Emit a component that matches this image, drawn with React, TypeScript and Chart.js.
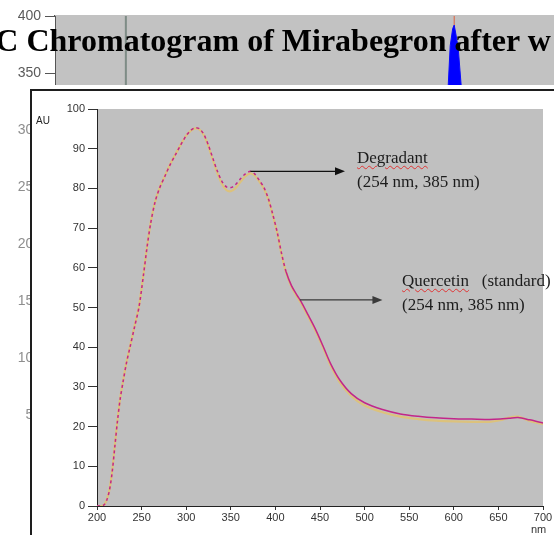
import React, { useEffect, useRef } from 'react';
import { Chart, registerables } from 'chart.js';

Chart.register(...registerables);

// ---------- background chromatogram (partly hidden) ----------
const titleText = 'LC Chromatogram of Mirabegron after w';
const chromTimeMax = 10;
const chromTicks = [0, 50, 100, 150, 200, 250, 300, 350, 400];
const peakTimes = [7.84, 7.86, 7.88, 7.92, 7.97, 8.0, 8.03, 8.08, 8.14, 8.17, 8.2];
const peakSignal = [0, 300, 339, 374, 389, 392, 385, 372, 339, 300, 0];
const spikeTimes = [8.0, 8.0];
const spikeSignal = [362, 402];
const markerTimes = [1.42, 1.42];
const markerSignal = [0, 400];

// ---------- UV spectrum ----------
const wavelengths = [
  200, 205, 208, 211, 214, 217, 220, 223, 226, 229, 233, 237, 242, 247, 252, 256, 260, 265, 270, 276,
  282, 288, 294, 300, 305, 310, 315, 320, 325, 330, 335, 340, 345, 350, 355, 360, 366, 372, 377, 382,
  387, 392, 397, 402, 407, 412, 418, 424, 430, 437, 445, 453, 462, 472, 485, 500, 520, 540, 560, 580,
  600, 620, 640, 652, 662, 672, 685, 700,
];
const degradantAU = [
  0, 0, 0.3, 1.5, 4, 8.5, 15, 21.5, 27, 31, 36, 40, 45, 50, 58, 65, 71, 76.5, 80, 83,
  86, 88.5, 91, 93.3, 94.6, 95.3, 95, 93.5, 90.8, 87.5, 84.3, 81.8, 80.4, 80.2, 80.9, 82.2, 83.6, 84.3, 83.6, 82,
  80.3, 77.5, 73.5, 69, 63.5, 59, 55.5, 53.2, 51, 48, 44.5, 40.5, 35.8, 31.8, 28.3, 26, 24.3, 23.2, 22.6, 22.2,
  22, 21.9, 21.8, 21.9, 22.1, 22.3, 21.7, 20.9,
];
const standardAU = [
  0, 0, 0.3, 1.6, 4.2, 8.8, 15.3, 21.8, 27.2, 31.2, 36.2, 40.2, 45.2, 50.3, 58.2, 65.2, 71.1, 76.5, 80, 83.1,
  86.1, 88.6, 91.1, 93.3, 94.5, 95.1, 94.8, 93.3, 90.5, 87.1, 83.8, 81.2, 79.6, 79.3, 80, 81.4, 83, 83.8, 83.2, 81.7,
  80, 77.3, 73.3, 68.8, 63.3, 58.8, 55.2, 52.8, 50.6, 47.6, 44.1, 40.1, 35.3, 31.2, 27.7, 25.3, 23.6, 22.5, 21.9, 21.5,
  21.3, 21.2, 21.2, 21.6, 22.3, 22.5, 21.4, 20.6,
];
const auTicks = [0, 10, 20, 30, 40, 50, 60, 70, 80, 90, 100];
const nmTicks = [200, 250, 300, 350, 400, 450, 500, 550, 600, 650, 700];

// arrows (data space)
const degradantArrow = { from: [372, 84.3], to: [478, 84.3] };
const standardArrow = { from: [427.5, 51.9], to: [520, 51.9] };

const areaBg = {
  id: 'areaBg',
  beforeDraw(chart: any, _args: any, opts: any) {
    const { ctx, chartArea } = chart;
    const ext = opts.extendTop || 0;
    ctx.save();
    ctx.fillStyle = opts.color || '#c0c0c0';
    ctx.fillRect(
      chartArea.left,
      chartArea.top - ext,
      chartArea.right - chartArea.left,
      chartArea.bottom - chartArea.top + ext,
    );
    if (ext && opts.borderColor) {
      ctx.strokeStyle = opts.borderColor;
      ctx.lineWidth = 1;
      ctx.beginPath();
      ctx.moveTo(chartArea.left - 0.5, chartArea.top - ext);
      ctx.lineTo(chartArea.left - 0.5, chartArea.top);
      ctx.stroke();
    }
    ctx.restore();
  },
};

const arrowPlugin = {
  id: 'arrows',
  afterDatasetsDraw(chart: any, _args: any, opts: any) {
    const { ctx } = chart;
    const xs = chart.scales.x;
    const ys = chart.scales.y;
    (opts.items || []).forEach((a: any) => {
      const x0 = xs.getPixelForValue(a.from[0]);
      const y0 = ys.getPixelForValue(a.from[1]);
      const x1 = xs.getPixelForValue(a.to[0]);
      const y1 = ys.getPixelForValue(a.to[1]);
      ctx.save();
      ctx.strokeStyle = a.color;
      ctx.fillStyle = a.color;
      ctx.lineWidth = 1.3;
      ctx.beginPath();
      ctx.moveTo(x0, y0);
      ctx.lineTo(x1 - 8, y1);
      ctx.stroke();
      ctx.beginPath();
      ctx.moveTo(x1, y1);
      ctx.lineTo(x1 - 10, y1 - 4);
      ctx.lineTo(x1 - 10, y1 + 4);
      ctx.closePath();
      ctx.fill();
      ctx.restore();
    });
  },
};

function BackgroundChart() {
  const ref = useRef<HTMLCanvasElement>(null);
  useEffect(() => {
    if (!ref.current) return;
    const chart = new Chart(ref.current, {
      type: 'line',
      data: {
        datasets: [
          {
            label: 'peak',
            data: peakTimes.map((t, i) => ({ x: t, y: peakSignal[i] })),
            borderColor: '#0a0aff',
            backgroundColor: '#0000ff',
            fill: 'origin',
            borderWidth: 1,
            pointRadius: 0,
          },
          {
            label: 'spike',
            data: spikeTimes.map((t, i) => ({ x: t, y: spikeSignal[i] })),
            borderColor: '#e0603c',
            borderWidth: 1,
            pointRadius: 0,
          },
          {
            label: 'marker',
            data: markerTimes.map((t, i) => ({ x: t, y: markerSignal[i] })),
            borderColor: '#7e8c86',
            borderWidth: 2,
            pointRadius: 0,
          },
        ],
      },
      options: {
        animation: false,
        responsive: false,
        devicePixelRatio: 1,
        layout: { padding: { top: 16, bottom: 63, left: 0, right: 0 } },
        plugins: {
          legend: { display: false },
          tooltip: { enabled: false },
          areaBg: { color: '#c2c2c2', extendTop: 1, borderColor: '#555' },
        } as any,
        scales: {
          x: { type: 'linear', min: 0, max: chromTimeMax, display: false },
          y: {
            type: 'linear',
            min: chromTicks[0],
            max: chromTicks[chromTicks.length - 1],
            afterBuildTicks: (s: any) => {
              s.ticks = chromTicks.map((v) => ({ value: v }));
            },
            afterFit: (s: any) => {
              s.width = 55;
            },
            ticks: {
              padding: 4,
              font: { family: 'Arial, "Liberation Sans"', size: 14 },
              color: (c: any) => (c && c.tick && c.tick.value < 350 ? '#8e8e8e' : '#5a5a5a'),
            },
            grid: { drawOnChartArea: false, tickLength: 10, color: '#555' },
            border: { color: '#555', width: 1 },
          },
        },
      },
      plugins: [areaBg],
    });
    return () => chart.destroy();
  }, []);
  return <canvas ref={ref} width={554} height={535} style={{ position: 'absolute', left: 0, top: 0 }} />;
}

function SpectrumChart() {
  const ref = useRef<HTMLCanvasElement>(null);
  useEffect(() => {
    if (!ref.current) return;
    const chart = new Chart(ref.current, {
      type: 'line',
      data: {
        datasets: [
          {
            label: 'Degradant',
            data: wavelengths.map((w, i) => ({ x: w, y: degradantAU[i] })),
            borderColor: '#c2268a',
            borderWidth: 1.5,
            pointRadius: 0,
            tension: 0.3,
            segment: {
              borderDash: (c: any) => (c.p0.parsed.x < 410 ? [3, 3] : []),
            },
          },
          {
            label: 'Quercetin (standard)',
            data: wavelengths.map((w, i) => ({ x: w, y: standardAU[i] })),
            borderColor: '#dcc27c',
            borderWidth: 2.2,
            pointRadius: 0,
            tension: 0.3,
          },
        ],
      },
      options: {
        animation: false,
        responsive: false,
        devicePixelRatio: 1,
        layout: { padding: { top: 18, right: 11, left: 0, bottom: 0 } },
        plugins: {
          legend: { display: false },
          tooltip: { enabled: false },
          areaBg: { color: '#c0c0c0' },
          arrows: {
            items: [
              { ...degradantArrow, color: '#111' },
              { ...standardArrow, color: '#3a3a3a' },
            ],
          },
        } as any,
        scales: {
          x: {
            type: 'linear',
            min: nmTicks[0],
            max: nmTicks[nmTicks.length - 1],
            afterBuildTicks: (s: any) => {
              s.ticks = nmTicks.map((v) => ({ value: v }));
            },
            afterFit: (s: any) => {
              s.height = 29;
            },
            ticks: {
              padding: 1,
              maxRotation: 0,
              autoSkip: false,
              font: { family: 'Arial, "Liberation Sans"', size: 11 },
              color: '#333',
            },
            grid: { drawOnChartArea: false, tickLength: 4, color: '#333' },
            border: { color: '#222', width: 1 },
          },
          y: {
            type: 'linear',
            min: auTicks[0],
            max: auTicks[auTicks.length - 1],
            afterBuildTicks: (s: any) => {
              s.ticks = auTicks.map((v) => ({ value: v }));
            },
            afterFit: (s: any) => {
              s.width = 65;
            },
            ticks: {
              padding: 3,
              font: { family: 'Arial, "Liberation Sans"', size: 11 },
              color: '#333',
            },
            grid: { drawOnChartArea: false, tickLength: 9, color: '#333' },
            border: { color: '#222', width: 1 },
          },
        },
      },
      plugins: [areaBg, arrowPlugin],
    });
    return () => chart.destroy();
  }, []);
  return <canvas ref={ref} width={522} height={444} style={{ display: 'block' }} />;
}

const serif = '"Liberation Serif", "Times New Roman", Times, serif';
const sans = 'Arial, "Liberation Sans", sans-serif';
const squiggle: React.CSSProperties = {
  textDecorationLine: 'underline',
  textDecorationStyle: 'wavy',
  textDecorationColor: '#e03434',
  textDecorationThickness: '1px',
  textUnderlineOffset: '2px',
};

export default function App() {
  return (
    <div
      style={{
        position: 'fixed',
        left: 0,
        top: 0,
        width: 554,
        height: 535,
        overflow: 'hidden',
        background: '#fff',
      }}
    >
      <BackgroundChart />
      <div
        style={{
          position: 'absolute',
          left: -26,
          top: 24,
          fontFamily: serif,
          fontWeight: 'bold',
          fontSize: 32,
          lineHeight: '32px',
          whiteSpace: 'nowrap',
          color: '#000',
        }}
      >
        {titleText}
      </div>
      <div style={{ position: 'absolute', left: 0, top: 85, width: 554, height: 4, background: '#fff' }} />
      <div
        style={{
          position: 'absolute',
          left: 30,
          top: 89,
          width: 524,
          height: 446,
          boxSizing: 'border-box',
          borderLeft: '2px solid #1e1e1e',
          borderTop: '2px solid #1e1e1e',
          background: '#fff',
        }}
      >
        <SpectrumChart />
      </div>
      <div style={{ position: 'absolute', left: 36, top: 115, fontFamily: sans, fontSize: 10, color: '#222' }}>AU</div>
      <div style={{ position: 'absolute', left: 531, top: 523, fontFamily: sans, fontSize: 11, color: '#333' }}>nm</div>
      <div
        style={{
          position: 'absolute',
          left: 357,
          top: 146,
          fontFamily: serif,
          fontSize: 17,
          lineHeight: '23.5px',
          color: '#1c1c1c',
          whiteSpace: 'pre',
        }}
      >
        <span style={squiggle}>Degradant</span>
        {'\n(254 nm, 385 nm)'}
      </div>
      <div
        style={{
          position: 'absolute',
          left: 402,
          top: 269,
          fontFamily: serif,
          fontSize: 17,
          lineHeight: '24px',
          color: '#1c1c1c',
          whiteSpace: 'pre',
        }}
      >
        <span style={squiggle}>Quercetin</span>
        {'   (standard)\n(254 nm, 385 nm)'}
      </div>
    </div>
  );
}
